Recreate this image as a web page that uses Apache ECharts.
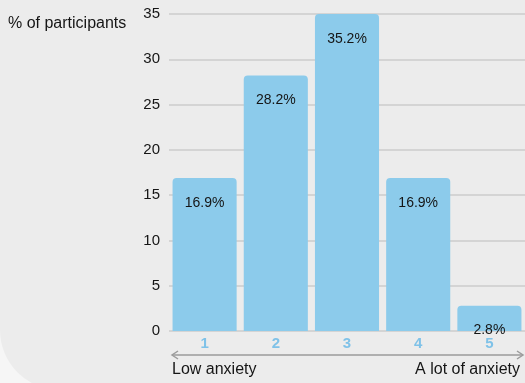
<!DOCTYPE html>
<html>
<head>
<meta charset="utf-8">
<script src="https://cdn.jsdelivr.net/npm/echarts@6/dist/echarts.min.js"></script>
<style>
  html, body { margin: 0; padding: 0; background: #f6f6f6; }
  #chart { width: 525px; height: 383px; }
</style>
</head>
<body>
<div id="chart"></div>
<script>
// Anxiety rating (1 = low, 5 = a lot) and share of participants per rating
const categories = ['1', '2', '3', '4', '5'];
const shares = [16.9, 28.2, 35.2, 16.9, 2.8];
const yTicks = { min: 0, max: 35, interval: 5 };
const scaleEnds = ['Low anxiety', 'A lot of anxiety'];
const yTitle = '% of participants';

const FONT = '"Liberation Sans", Arial, Helvetica, sans-serif';
const BAR = '#8ccbeb';
const INK = '#151515';

const chart = echarts.init(document.getElementById('chart'));

const arrowY = 355;
const arrowL = 172;
const arrowR = 523;
const arrowStyle = { stroke: '#9b9b9b', lineWidth: 1.5, fill: null };

chart.setOption({
  backgroundColor: 'transparent',
  animation: false,
  grid: { left: 169, right: -2, top: 14, bottom: 52, containLabel: false },
  xAxis: {
    type: 'category',
    data: categories,
    axisLine: { show: false },
    axisTick: { show: false },
    axisLabel: {
      color: '#7fc2e8', fontFamily: FONT, fontSize: 15, fontWeight: 'bold', margin: 5
    }
  },
  yAxis: {
    type: 'value',
    min: yTicks.min, max: yTicks.max, interval: yTicks.interval,
    axisLine: { show: false },
    axisTick: { show: false },
    axisLabel: { color: INK, fontFamily: FONT, fontSize: 15, margin: 9 },
    splitLine: { lineStyle: { color: '#cdcdcd', width: 1.5 } }
  },
  series: [{
    type: 'bar',
    data: shares,
    barCategoryGap: '10%',
    clip: true,
    itemStyle: { color: BAR, borderRadius: [4, 4, 0, 0] },
    label: {
      show: true,
      position: 'insideTop',
      distance: 18,
      color: INK,
      fontFamily: FONT,
      fontSize: 14,
      formatter: p => p.value.toFixed(1) + '%'
    }
  }],
  graphic: [
    // panel behind the chart with a rounded lower-left corner
    {
      type: 'rect', z: -10, silent: true,
      shape: { x: 0, y: -20, width: 560, height: 410, r: [0, 0, 0, 60] },
      style: { fill: '#ececec' }
    },
    {
      type: 'text', left: 8, top: 16,
      style: { text: yTitle, fill: INK, font: '16px ' + FONT }
    },
    // double-headed scale arrow under the categories
    { type: 'line', shape: { x1: arrowL, y1: arrowY, x2: arrowR, y2: arrowY }, style: arrowStyle },
    { type: 'polyline', shape: { points: [[arrowL + 6, arrowY - 4], [arrowL, arrowY], [arrowL + 6, arrowY + 4]] }, style: arrowStyle },
    { type: 'polyline', shape: { points: [[arrowR - 6, arrowY - 4], [arrowR, arrowY], [arrowR - 6, arrowY + 4]] }, style: arrowStyle },
    {
      type: 'text', left: 172, top: 362,
      style: { text: scaleEnds[0], fill: INK, font: '16px ' + FONT }
    },
    {
      type: 'text', right: 5, top: 362,
      style: { text: scaleEnds[1], fill: INK, font: '16px ' + FONT, align: 'right' }
    }
  ]
});
</script>
</body>
</html>
